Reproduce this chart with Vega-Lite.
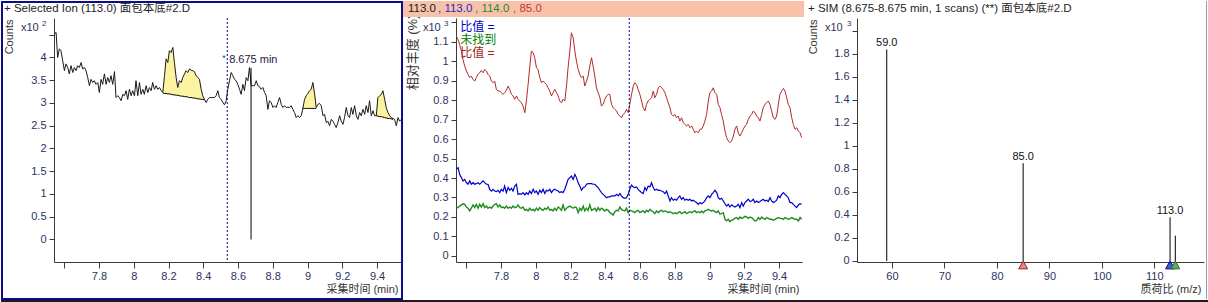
{
"$schema": "https://vega.github.io/schema/vega-lite/v6.json",
"padding": 0,
"background": "white",
"bounds": "flush",
"spacing": 55,
"config": {
 "view": {"stroke": null},
 "font": "Liberation Sans, Noto Sans CJK SC",
 "axis": {"grid": false, "domainColor": "#3a3a3a", "tickColor": "#3a3a3a", "labelColor": "#2c3360", "labelFont": "Liberation Sans", "labelFontSize": 11, "titleFont": "Liberation Sans, Noto Sans CJK SC", "titleFontSize": 11, "titleFontWeight": "normal", "titleColor": "#333333", "tickSize": 5, "labelPadding": 3, "labelOverlap": false, "labelFlush": false},
 "axisX": {"tickSize": 6, "labelPadding": 2}
},
"datasets": {
"scan": [
{"t":7.543,"v":4.52,"r":1.128,"b":0.444,"g":0.251},
{"t":7.553,"v":4.55,"r":1.111,"b":0.453,"g":0.248},
{"t":7.562,"v":4.00,"r":1.085,"b":0.419,"g":0.256},
{"t":7.572,"v":4.19,"r":1.051,"b":0.402,"g":0.262},
{"t":7.581,"v":4.15,"r":1.009,"b":0.385,"g":0.268},
{"t":7.591,"v":3.93,"r":0.974,"b":0.393,"g":0.265},
{"t":7.601,"v":3.71,"r":0.949,"b":0.376,"g":0.251},
{"t":7.610,"v":3.86,"r":0.932,"b":0.368,"g":0.245},
{"t":7.620,"v":3.78,"r":0.915,"b":0.385,"g":0.231},
{"t":7.629,"v":3.64,"r":0.923,"b":0.368,"g":0.245},
{"t":7.639,"v":3.82,"r":0.906,"b":0.376,"g":0.262},
{"t":7.649,"v":3.67,"r":0.897,"b":0.368,"g":0.248},
{"t":7.658,"v":3.78,"r":0.915,"b":0.371,"g":0.265},
{"t":7.668,"v":3.71,"r":0.932,"b":0.376,"g":0.245},
{"t":7.677,"v":3.82,"r":0.940,"b":0.368,"g":0.265},
{"t":7.687,"v":3.78,"r":0.952,"b":0.376,"g":0.251},
{"t":7.697,"v":3.89,"r":0.940,"b":0.385,"g":0.268},
{"t":7.706,"v":3.75,"r":0.957,"b":0.376,"g":0.248},
{"t":7.716,"v":3.78,"r":0.949,"b":0.368,"g":0.256},
{"t":7.725,"v":3.71,"r":0.932,"b":0.368,"g":0.245},
{"t":7.735,"v":3.56,"r":0.923,"b":0.342,"g":0.251},
{"t":7.745,"v":3.38,"r":0.897,"b":0.333,"g":0.245},
{"t":7.754,"v":3.52,"r":0.889,"b":0.342,"g":0.256},
{"t":7.764,"v":3.45,"r":0.897,"b":0.333,"g":0.265},
{"t":7.773,"v":3.49,"r":0.855,"b":0.330,"g":0.268},
{"t":7.783,"v":3.41,"r":0.846,"b":0.337,"g":0.251},
{"t":7.793,"v":3.45,"r":0.846,"b":0.325,"g":0.262},
{"t":7.802,"v":3.23,"r":0.838,"b":0.342,"g":0.248},
{"t":7.812,"v":3.52,"r":0.829,"b":0.333,"g":0.251},
{"t":7.821,"v":3.41,"r":0.838,"b":0.359,"g":0.245},
{"t":7.831,"v":3.64,"r":0.850,"b":0.325,"g":0.256},
{"t":7.841,"v":3.41,"r":0.872,"b":0.351,"g":0.245},
{"t":7.850,"v":3.56,"r":0.855,"b":0.337,"g":0.251},
{"t":7.860,"v":3.45,"r":0.829,"b":0.347,"g":0.245},
{"t":7.869,"v":3.60,"r":0.821,"b":0.333,"g":0.256},
{"t":7.879,"v":3.41,"r":0.804,"b":0.359,"g":0.248},
{"t":7.889,"v":3.69,"r":0.821,"b":0.368,"g":0.251},
{"t":7.898,"v":3.12,"r":0.804,"b":0.316,"g":0.262},
{"t":7.908,"v":3.16,"r":0.795,"b":0.320,"g":0.248},
{"t":7.917,"v":3.12,"r":0.786,"b":0.316,"g":0.245},
{"t":7.927,"v":3.05,"r":0.769,"b":0.325,"g":0.251},
{"t":7.937,"v":3.19,"r":0.735,"b":0.313,"g":0.234},
{"t":7.946,"v":3.16,"r":0.795,"b":0.325,"g":0.239},
{"t":7.956,"v":3.27,"r":0.880,"b":0.316,"g":0.231},
{"t":7.965,"v":3.08,"r":0.966,"b":0.333,"g":0.245},
{"t":7.975,"v":3.30,"r":1.051,"b":0.320,"g":0.234},
{"t":7.985,"v":3.16,"r":1.043,"b":0.342,"g":0.239},
{"t":7.994,"v":3.27,"r":1.017,"b":0.325,"g":0.231},
{"t":8.004,"v":3.16,"r":0.966,"b":0.333,"g":0.245},
{"t":8.013,"v":3.49,"r":0.957,"b":0.316,"g":0.234},
{"t":8.023,"v":3.16,"r":0.915,"b":0.337,"g":0.248},
{"t":8.033,"v":3.45,"r":0.889,"b":0.325,"g":0.239},
{"t":8.042,"v":3.19,"r":0.897,"b":0.342,"g":0.234},
{"t":8.052,"v":3.30,"r":0.889,"b":0.320,"g":0.245},
{"t":8.061,"v":3.19,"r":0.880,"b":0.337,"g":0.239},
{"t":8.071,"v":3.38,"r":0.863,"b":0.333,"g":0.251},
{"t":8.081,"v":3.23,"r":0.846,"b":0.342,"g":0.234},
{"t":8.090,"v":3.34,"r":0.821,"b":0.325,"g":0.239},
{"t":8.100,"v":3.27,"r":0.838,"b":0.337,"g":0.231},
{"t":8.109,"v":3.45,"r":0.855,"b":0.342,"g":0.245},
{"t":8.119,"v":3.30,"r":0.838,"b":0.337,"g":0.234},
{"t":8.129,"v":3.38,"r":0.821,"b":0.333,"g":0.251},
{"t":8.138,"v":3.30,"r":0.795,"b":0.325,"g":0.245},
{"t":8.148,"v":3.34,"r":0.786,"b":0.330,"g":0.234},
{"t":8.157,"v":3.28,"r":0.804,"b":0.325,"g":0.262},
{"t":8.167,"v":3.23,"r":0.795,"b":0.342,"g":0.234,"base":3.22,"p":"A"},
{"t":8.177,"v":3.60,"r":0.872,"b":0.368,"g":0.245,"base":3.21,"p":"A"},
{"t":8.186,"v":3.97,"r":0.966,"b":0.393,"g":0.251,"base":3.21,"p":"A"},
{"t":8.196,"v":3.89,"r":1.051,"b":0.402,"g":0.256,"base":3.20,"p":"A"},
{"t":8.205,"v":4.15,"r":1.145,"b":0.410,"g":0.251,"base":3.20,"p":"A"},
{"t":8.215,"v":4.11,"r":1.120,"b":0.393,"g":0.245,"base":3.19,"p":"A"},
{"t":8.225,"v":4.22,"r":1.051,"b":0.419,"g":0.251,"base":3.18,"p":"A"},
{"t":8.234,"v":3.89,"r":1.000,"b":0.402,"g":0.248,"base":3.18,"p":"A"},
{"t":8.244,"v":3.56,"r":0.957,"b":0.376,"g":0.222,"base":3.17,"p":"A"},
{"t":8.253,"v":3.34,"r":0.932,"b":0.359,"g":0.245,"base":3.17,"p":"A"},
{"t":8.263,"v":3.49,"r":0.915,"b":0.337,"g":0.234,"base":3.16,"p":"A"},
{"t":8.273,"v":3.45,"r":0.923,"b":0.351,"g":0.256,"base":3.15,"p":"A"},
{"t":8.282,"v":3.56,"r":0.872,"b":0.354,"g":0.231,"base":3.15,"p":"A"},
{"t":8.292,"v":3.64,"r":0.897,"b":0.368,"g":0.245,"base":3.14,"p":"A"},
{"t":8.301,"v":3.71,"r":0.923,"b":0.371,"g":0.234,"base":3.14,"p":"A"},
{"t":8.311,"v":3.67,"r":0.974,"b":0.371,"g":0.262,"base":3.13,"p":"A"},
{"t":8.321,"v":3.75,"r":1.017,"b":0.371,"g":0.234,"base":3.12,"p":"A"},
{"t":8.330,"v":3.72,"r":0.974,"b":0.368,"g":0.239,"base":3.12,"p":"A"},
{"t":8.340,"v":3.71,"r":0.923,"b":0.368,"g":0.245,"base":3.11,"p":"A"},
{"t":8.349,"v":3.69,"r":0.863,"b":0.359,"g":0.231,"base":3.11,"p":"A"},
{"t":8.359,"v":3.60,"r":0.838,"b":0.351,"g":0.248,"base":3.10,"p":"A"},
{"t":8.369,"v":3.56,"r":0.812,"b":0.337,"g":0.234,"base":3.09,"p":"A"},
{"t":8.378,"v":3.52,"r":0.769,"b":0.325,"g":0.245,"base":3.09,"p":"A"},
{"t":8.388,"v":3.30,"r":0.778,"b":0.316,"g":0.239,"base":3.08,"p":"A"},
{"t":8.397,"v":3.16,"r":0.804,"b":0.308,"g":0.231,"base":3.08,"p":"A"},
{"t":8.407,"v":3.08,"r":0.821,"b":0.299,"g":0.239,"base":3.07,"p":"A"},
{"t":8.417,"v":3.01,"r":0.829,"b":0.303,"g":0.234},
{"t":8.426,"v":3.08,"r":0.829,"b":0.303,"g":0.222},
{"t":8.436,"v":3.12,"r":0.778,"b":0.308,"g":0.217},
{"t":8.445,"v":3.12,"r":0.761,"b":0.308,"g":0.210},
{"t":8.455,"v":3.12,"r":0.752,"b":0.308,"g":0.227},
{"t":8.465,"v":3.12,"r":0.744,"b":0.316,"g":0.234},
{"t":8.474,"v":3.16,"r":0.726,"b":0.308,"g":0.231},
{"t":8.484,"v":3.27,"r":0.718,"b":0.320,"g":0.251},
{"t":8.493,"v":3.12,"r":0.709,"b":0.308,"g":0.239},
{"t":8.503,"v":3.08,"r":0.726,"b":0.299,"g":0.234},
{"t":8.513,"v":3.01,"r":0.735,"b":0.296,"g":0.231},
{"t":8.522,"v":2.96,"r":0.752,"b":0.299,"g":0.245},
{"t":8.532,"v":3.05,"r":0.735,"b":0.316,"g":0.222},
{"t":8.541,"v":3.30,"r":0.778,"b":0.342,"g":0.234},
{"t":8.551,"v":3.49,"r":0.829,"b":0.364,"g":0.231},
{"t":8.561,"v":3.67,"r":0.872,"b":0.354,"g":0.227},
{"t":8.570,"v":3.60,"r":0.889,"b":0.351,"g":0.222},
{"t":8.580,"v":3.52,"r":0.880,"b":0.354,"g":0.231},
{"t":8.589,"v":3.49,"r":0.855,"b":0.342,"g":0.234},
{"t":8.599,"v":3.41,"r":0.829,"b":0.333,"g":0.222},
{"t":8.609,"v":3.30,"r":0.795,"b":0.325,"g":0.227},
{"t":8.618,"v":3.19,"r":0.761,"b":0.320,"g":0.231},
{"t":8.628,"v":3.41,"r":0.744,"b":0.351,"g":0.222},
{"t":8.637,"v":3.27,"r":0.778,"b":0.337,"g":0.234},
{"t":8.647,"v":3.56,"r":0.795,"b":0.359,"g":0.227},
{"t":8.657,"v":3.49,"r":0.804,"b":0.354,"g":0.239},
{"t":8.666,"v":3.78,"r":0.812,"b":0.376,"g":0.231},
{"t":8.676,"v":3.38,"r":0.846,"b":0.351,"g":0.227},
{"t":8.685,"v":3.38,"r":0.812,"b":0.337,"g":0.217},
{"t":8.695,"v":3.38,"r":0.829,"b":0.342,"g":0.231},
{"t":8.705,"v":3.49,"r":0.863,"b":0.337,"g":0.222},
{"t":8.714,"v":3.38,"r":0.872,"b":0.337,"g":0.231},
{"t":8.724,"v":3.36,"r":0.863,"b":0.333,"g":0.234},
{"t":8.733,"v":3.30,"r":0.855,"b":0.330,"g":0.227},
{"t":8.743,"v":3.34,"r":0.838,"b":0.320,"g":0.231},
{"t":8.753,"v":3.23,"r":0.812,"b":0.333,"g":0.227},
{"t":8.762,"v":3.16,"r":0.786,"b":0.308,"g":0.222},
{"t":8.772,"v":2.86,"r":0.761,"b":0.282,"g":0.227},
{"t":8.781,"v":3.05,"r":0.726,"b":0.299,"g":0.222},
{"t":8.791,"v":3.01,"r":0.718,"b":0.286,"g":0.217},
{"t":8.801,"v":2.90,"r":0.726,"b":0.291,"g":0.222},
{"t":8.810,"v":2.94,"r":0.709,"b":0.286,"g":0.217},
{"t":8.820,"v":2.90,"r":0.718,"b":0.299,"g":0.222},
{"t":8.829,"v":3.01,"r":0.692,"b":0.308,"g":0.227},
{"t":8.839,"v":3.12,"r":0.709,"b":0.291,"g":0.217},
{"t":8.849,"v":2.97,"r":0.684,"b":0.299,"g":0.222},
{"t":8.858,"v":2.90,"r":0.675,"b":0.286,"g":0.227},
{"t":8.868,"v":2.94,"r":0.667,"b":0.291,"g":0.217},
{"t":8.877,"v":2.90,"r":0.675,"b":0.286,"g":0.222},
{"t":8.887,"v":2.91,"r":0.658,"b":0.291,"g":0.227},
{"t":8.897,"v":2.90,"r":0.667,"b":0.282,"g":0.222},
{"t":8.906,"v":2.94,"r":0.650,"b":0.286,"g":0.227},
{"t":8.916,"v":2.86,"r":0.632,"b":0.279,"g":0.231},
{"t":8.925,"v":2.79,"r":0.641,"b":0.274,"g":0.222},
{"t":8.935,"v":2.68,"r":0.632,"b":0.265,"g":0.227},
{"t":8.945,"v":2.72,"r":0.650,"b":0.274,"g":0.222},
{"t":8.954,"v":2.68,"r":0.650,"b":0.268,"g":0.231},
{"t":8.964,"v":2.72,"r":0.667,"b":0.274,"g":0.222},
{"t":8.973,"v":2.88,"r":0.692,"b":0.282,"g":0.231,"base":2.88,"p":"B"},
{"t":8.983,"v":3.08,"r":0.726,"b":0.299,"g":0.234,"base":2.88,"p":"B"},
{"t":8.993,"v":3.16,"r":0.795,"b":0.308,"g":0.239,"base":2.88,"p":"B"},
{"t":9.002,"v":3.21,"r":0.838,"b":0.299,"g":0.234,"base":2.88,"p":"B"},
{"t":9.012,"v":3.27,"r":0.846,"b":0.316,"g":0.231,"base":2.88,"p":"B"},
{"t":9.021,"v":3.30,"r":0.863,"b":0.325,"g":0.234,"base":2.88,"p":"B"},
{"t":9.031,"v":3.45,"r":0.838,"b":0.337,"g":0.227,"base":2.88,"p":"B"},
{"t":9.041,"v":3.19,"r":0.829,"b":0.325,"g":0.222,"base":2.88,"p":"B"},
{"t":9.050,"v":2.90,"r":0.778,"b":0.299,"g":0.231,"base":2.88,"p":"B"},
{"t":9.060,"v":2.97,"r":0.761,"b":0.291,"g":0.214},
{"t":9.069,"v":2.99,"r":0.726,"b":0.296,"g":0.217},
{"t":9.079,"v":2.94,"r":0.692,"b":0.282,"g":0.222},
{"t":9.089,"v":2.72,"r":0.641,"b":0.268,"g":0.188},
{"t":9.098,"v":2.75,"r":0.607,"b":0.256,"g":0.180},
{"t":9.108,"v":2.57,"r":0.590,"b":0.265,"g":0.188},
{"t":9.117,"v":2.60,"r":0.581,"b":0.251,"g":0.176},
{"t":9.127,"v":2.50,"r":0.590,"b":0.262,"g":0.183},
{"t":9.137,"v":2.64,"r":0.615,"b":0.256,"g":0.188},
{"t":9.146,"v":2.60,"r":0.650,"b":0.251,"g":0.193},
{"t":9.156,"v":2.53,"r":0.667,"b":0.256,"g":0.197},
{"t":9.165,"v":2.46,"r":0.632,"b":0.265,"g":0.188},
{"t":9.175,"v":2.57,"r":0.615,"b":0.248,"g":0.200},
{"t":9.185,"v":2.72,"r":0.632,"b":0.274,"g":0.193},
{"t":9.194,"v":2.60,"r":0.650,"b":0.256,"g":0.197},
{"t":9.204,"v":2.53,"r":0.667,"b":0.274,"g":0.203},
{"t":9.213,"v":2.68,"r":0.675,"b":0.282,"g":0.200},
{"t":9.223,"v":2.90,"r":0.701,"b":0.291,"g":0.193},
{"t":9.233,"v":2.72,"r":0.718,"b":0.279,"g":0.200},
{"t":9.242,"v":2.68,"r":0.726,"b":0.282,"g":0.197},
{"t":9.252,"v":2.90,"r":0.744,"b":0.291,"g":0.188},
{"t":9.261,"v":2.75,"r":0.735,"b":0.274,"g":0.180},
{"t":9.271,"v":2.94,"r":0.718,"b":0.282,"g":0.183},
{"t":9.281,"v":2.72,"r":0.709,"b":0.274,"g":0.197},
{"t":9.290,"v":2.64,"r":0.692,"b":0.279,"g":0.188},
{"t":9.300,"v":2.79,"r":0.726,"b":0.286,"g":0.200},
{"t":9.309,"v":2.72,"r":0.761,"b":0.291,"g":0.193},
{"t":9.319,"v":2.86,"r":0.778,"b":0.282,"g":0.188},
{"t":9.329,"v":2.75,"r":0.786,"b":0.286,"g":0.197},
{"t":9.338,"v":2.94,"r":0.795,"b":0.279,"g":0.193},
{"t":9.348,"v":2.79,"r":0.778,"b":0.299,"g":0.188},
{"t":9.357,"v":3.05,"r":0.744,"b":0.282,"g":0.188},
{"t":9.367,"v":2.72,"r":0.709,"b":0.274,"g":0.183},
{"t":9.377,"v":2.83,"r":0.701,"b":0.279,"g":0.188},
{"t":9.386,"v":2.72,"r":0.718,"b":0.286,"g":0.193},
{"t":9.396,"v":2.72,"r":0.778,"b":0.308,"g":0.197,"base":2.72,"p":"C"},
{"t":9.405,"v":3.12,"r":0.829,"b":0.299,"g":0.193,"base":2.71,"p":"C"},
{"t":9.415,"v":3.16,"r":0.846,"b":0.316,"g":0.193,"base":2.70,"p":"C"},
{"t":9.425,"v":3.19,"r":0.860,"b":0.325,"g":0.188,"base":2.70,"p":"C"},
{"t":9.434,"v":3.27,"r":0.846,"b":0.316,"g":0.197,"base":2.69,"p":"C"},
{"t":9.444,"v":3.08,"r":0.812,"b":0.308,"g":0.193,"base":2.68,"p":"C"},
{"t":9.453,"v":2.90,"r":0.778,"b":0.299,"g":0.188,"base":2.67,"p":"C"},
{"t":9.463,"v":2.79,"r":0.761,"b":0.274,"g":0.191,"base":2.66,"p":"C"},
{"t":9.473,"v":2.72,"r":0.709,"b":0.274,"g":0.197,"base":2.66,"p":"C"},
{"t":9.482,"v":2.68,"r":0.675,"b":0.265,"g":0.193,"base":2.65,"p":"C"},
{"t":9.492,"v":2.66,"r":0.650,"b":0.256,"g":0.188,"base":2.64,"p":"C"},
{"t":9.501,"v":2.64,"r":0.658,"b":0.248,"g":0.188},
{"t":9.511,"v":2.50,"r":0.641,"b":0.262,"g":0.180},
{"t":9.521,"v":2.68,"r":0.632,"b":0.268,"g":0.197},
{"t":9.530,"v":2.60,"r":0.607,"b":0.265,"g":0.188},
{"t":9.540,"v":2.64}
],
"spec": [
{"mz":59,"y":1.84,"lab":"59.0"},
{"mz":85,"y":0.85,"lab":"85.0"},
{"mz":113,"y":0.38,"lab":"113.0"},
{"mz":114,"y":0.22,"lab":""}
],
"ions": [
{"mz":85,"ion":"85"},
{"mz":113,"ion":"113"},
{"mz":114,"ion":"114"}
]
},
"hconcat": [
{
 "width": 347, "height": 244,
 "layer": [
  {"data": {"values": [{}]}, "mark": {"type": "rect", "fillOpacity": 0, "stroke": "#0c0c86", "strokeWidth": 2}, "encoding": {"x": {"datum": 7.2417}, "x2": {"datum": 9.5439}, "y": {"datum": 5.22}, "y2": {"datum": -1.308}}},
  {"data": {"values": [{}]}, "mark": {"type": "rect", "color": "#1c1c1c"}, "encoding": {"x": {"datum": 7.236}, "x2": {"datum": 9.561}, "y": {"datum": -1.33}, "y2": {"datum": -1.3956}}},
  {"data": {"name": "scan"}, "transform": [{"filter": "isValid(datum.base)"}], "mark": {"type": "area", "color": "#fbf3a0", "opacity": 1}, "encoding": {"x": {"field": "t", "type": "quantitative"}, "y": {"field": "v", "type": "quantitative"}, "y2": {"field": "base"}, "detail": {"field": "p"}}},
  {"data": {"name": "scan"}, "transform": [{"filter": "isValid(datum.base)"}], "mark": {"type": "line", "color": "#000000", "strokeWidth": 1}, "encoding": {"x": {"field": "t", "type": "quantitative"}, "y": {"field": "base", "type": "quantitative"}, "detail": {"field": "p"}}},
  {"data": {"name": "scan"}, "mark": {"type": "line", "color": "#1a1a1a", "strokeWidth": 1},
   "encoding": {
    "x": {"field": "t", "type": "quantitative", "scale": {"domain": [7.541, 9.538], "nice": false, "zero": false},
      "axis": {"title": "采集时间 (min)", "values": [7.6,7.8,8,8.2,8.4,8.6,8.8,9,9.2,9.4], "tickCount": 100, "format": "~r", "labelOverlap": false, "labelFlush": false, "labelExpr": "datum.value < 7.7 ? '' : datum.label", "titleX": 344, "titleY": 27, "titleAlign": "right", "titleBaseline": "middle", "titleAnchor": "end"}},
    "y": {"field": "v", "type": "quantitative", "scale": {"domain": [-0.495, 4.868], "nice": false, "zero": false},
      "axis": {"title": "Counts", "values": [0,0.5,1,1.5,2,2.5,3,3.5,4,4.5], "tickCount": 100, "format": "~r", "labelOverlap": false, "labelExpr": "datum.value > 4.4 ? '' : datum.label", "titleX": -45, "titleY": 1, "titleAngle": 270, "titleAlign": "right", "titleBaseline": "middle", "titleAnchor": "end"}}
   }},
  {"data": {"values": [{}]}, "mark": {"type": "rule", "color": "#0000a0", "strokeDash": [2, 2], "strokeWidth": 1}, "encoding": {"x": {"datum": 8.538}}},
  {"data": {"values": [{}]}, "mark": {"type": "rule", "color": "#000000", "strokeWidth": 1}, "encoding": {"x": {"datum": 8.675}, "y": {"datum": 0}, "y2": {"datum": 3.77}}},
  {"data": {"values": [{}]}, "mark": {"type": "text", "text": "+ Selected Ion (113.0) 面包本底#2.D", "align": "left", "baseline": "middle", "fontSize": 11.5, "color": "#1e1e1e"}, "encoding": {"x": {"datum": 7.2532}, "y": {"datum": 5.066}}},
  {"data": {"values": [{}]}, "mark": {"type": "text", "text": "8.675 min", "align": "left", "baseline": "middle", "fontSize": 11, "color": "#1e2040"}, "encoding": {"x": {"datum": 8.549}, "y": {"datum": 3.945}}},
  {"data": {"values": [{}]}, "mark": {"type": "text", "text": "*", "align": "center", "baseline": "middle", "fontSize": 9, "color": "#304080"}, "encoding": {"x": {"datum": 8.519}, "y": {"datum": 3.99}}},
  {"data": {"values": [{}]}, "mark": {"type": "text", "text": "x10", "align": "left", "baseline": "middle", "fontSize": 11, "color": "#2c3360"}, "encoding": {"x": {"datum": 7.351}, "y": {"datum": 4.648}}},
  {"data": {"values": [{}]}, "mark": {"type": "text", "text": "2", "align": "left", "baseline": "middle", "fontSize": 8, "color": "#2c3360"}, "encoding": {"x": {"datum": 7.472}, "y": {"datum": 4.736}}}
 ]
},
{
 "width": 346, "height": 244,
 "layer": [
  {"data": {"values": [{}]}, "mark": {"type": "rect", "color": "#1c1c1c"}, "encoding": {"x": {"datum": 7.236}, "x2": {"datum": 9.561}, "y": {"datum": -0.2256}, "y2": {"datum": -0.241}}},
  {"data": {"name": "scan"}, "transform": [{"fold": ["r", "b", "g"], "as": ["s", "val"]}, {"filter": "isValid(datum.val)"}],
   "mark": {"type": "line"},
   "encoding": {
    "x": {"field": "t", "type": "quantitative", "scale": {"domain": [7.541, 9.532], "nice": false, "zero": false},
      "axis": {"title": "采集时间 (min)", "values": [7.6,7.8,8,8.2,8.4,8.6,8.8,9,9.2,9.4], "tickCount": 100, "format": "~r", "labelOverlap": false, "labelFlush": false, "labelExpr": "datum.value < 7.7 ? '' : datum.label", "titleX": 343, "titleY": 27, "titleAlign": "right", "titleBaseline": "middle", "titleAnchor": "end"}},
    "y": {"field": "val", "type": "quantitative", "scale": {"domain": [-0.031, 1.221], "nice": false, "zero": false},
      "axis": {"title": "相对丰度 (%)", "titleFontSize": 13, "values": [0,0.1,0.2,0.3,0.4,0.5,0.6,0.7,0.8,0.9,1,1.1,1.2], "tickCount": 100, "format": "~r", "labelOverlap": false, "labelExpr": "datum.value > 1.15 ? '' : datum.label", "titleX": -44, "titleY": -4, "titleAngle": 270, "titleAlign": "right", "titleBaseline": "middle", "titleAnchor": "end"}},
    "color": {"field": "s", "type": "nominal", "scale": {"domain": ["r", "b", "g"], "range": ["#b22a2a", "#0000cc", "#1e8c1e"]}, "legend": null},
    "strokeWidth": {"field": "s", "type": "nominal", "scale": {"domain": ["r", "b", "g"], "range": [1, 1.4, 1]}, "legend": null}
   }},
  {"data": {"values": [{}]}, "mark": {"type": "rect", "color": "#f8c2aa"}, "encoding": {"x": {"datum": 7.236}, "x2": {"datum": 9.544}, "y": {"datum": 1.3077}, "y2": {"datum": 1.2256}}},
  {"data": {"values": [{}]}, "mark": {"type": "rule", "color": "#0000a0", "strokeDash": [2, 2], "strokeWidth": 1}, "encoding": {"x": {"datum": 8.538}}},
  {"data": {"values": [{}]}, "mark": {"type": "text", "text": "113.0", "align": "left", "baseline": "middle", "fontSize": 11.5, "color": "#1a1a1a"}, "encoding": {"x": {"datum": 7.2647}, "y": {"datum": 1.2667}}},
  {"data": {"values": [{}]}, "mark": {"type": "text", "text": ", 113.0", "align": "left", "baseline": "middle", "fontSize": 11.5, "color": "#2828c8"}, "encoding": {"x": {"datum": 7.4374}, "y": {"datum": 1.2667}}},
  {"data": {"values": [{}]}, "mark": {"type": "text", "text": ", 114.0", "align": "left", "baseline": "middle", "fontSize": 11.5, "color": "#2a8a2a"}, "encoding": {"x": {"datum": 7.6504}, "y": {"datum": 1.2667}}},
  {"data": {"values": [{}]}, "mark": {"type": "text", "text": ", 85.0", "align": "left", "baseline": "middle", "fontSize": 11.5, "color": "#c03a3a"}, "encoding": {"x": {"datum": 7.869}, "y": {"datum": 1.2667}}},
  {"data": {"values": [{}]}, "mark": {"type": "text", "text": "比值 =", "align": "left", "baseline": "middle", "fontSize": 12, "color": "#0000cc"}, "encoding": {"x": {"datum": 7.565}, "y": {"datum": 1.174}}},
  {"data": {"values": [{}]}, "mark": {"type": "text", "text": "未找到", "align": "left", "baseline": "middle", "fontSize": 12, "color": "#008000"}, "encoding": {"x": {"datum": 7.565}, "y": {"datum": 1.108}}},
  {"data": {"values": [{}]}, "mark": {"type": "text", "text": "比值 =", "align": "left", "baseline": "middle", "fontSize": 12, "color": "#a52020"}, "encoding": {"x": {"datum": 7.565}, "y": {"datum": 1.041}}},
  {"data": {"values": [{}]}, "mark": {"type": "text", "text": "x10", "align": "left", "baseline": "middle", "fontSize": 11, "color": "#2c3360"}, "encoding": {"x": {"datum": 7.351}, "y": {"datum": 1.169}}},
  {"data": {"values": [{}]}, "mark": {"type": "text", "text": "3", "align": "left", "baseline": "middle", "fontSize": 8, "color": "#2c3360"}, "encoding": {"x": {"datum": 7.472}, "y": {"datum": 1.19}}}
 ]
},
{
 "width": 347, "height": 244,
 "layer": [
  {"data": {"values": [{}]}, "mark": {"type": "rect", "color": "#1c1c1c"}, "encoding": {"x": {"datum": 43.42}, "x2": {"datum": 120.43}, "y": {"datum": -0.339}, "y2": {"datum": -0.365}}},
  {"data": {"values": [{}]}, "mark": {"type": "rule", "color": "#9a9a9a", "strokeWidth": 1}, "encoding": {"x": {"datum": 119.95}, "y": {"datum": 2.261}, "y2": {"datum": -0.33}}},
  {"data": {"name": "spec"}, "mark": {"type": "rule", "color": "#000000", "strokeWidth": 1},
   "encoding": {
    "x": {"field": "mz", "type": "quantitative", "scale": {"domain": [53.33, 119.47], "nice": false, "zero": false},
      "axis": {"title": "质荷比 (m/z)", "values": [60,70,80,90,100,110], "tickCount": 100, "format": "~r", "labelOverlap": false, "labelFlush": false, "titleX": 344, "titleY": 27, "titleAlign": "right", "titleBaseline": "middle", "titleAnchor": "end"}},
    "y": {"field": "y", "type": "quantitative", "scale": {"domain": [-0.009, 2.113], "nice": false, "zero": false},
      "axis": {"title": "Counts", "values": [0,0.2,0.4,0.6,0.8,1,1.2,1.4,1.6,1.8,2], "tickCount": 100, "format": "~r", "labelOverlap": false, "labelExpr": "datum.value > 1.9 ? '' : datum.label", "titleX": -44, "titleY": 1, "titleAngle": 270, "titleAlign": "right", "titleBaseline": "middle", "titleAnchor": "end"}},
    "y2": {"datum": 0}
   }},
  {"data": {"name": "spec"}, "mark": {"type": "text", "align": "center", "baseline": "bottom", "dy": -1, "fontSize": 11, "color": "#111111"}, "encoding": {"x": {"field": "mz", "type": "quantitative"}, "y": {"field": "y", "type": "quantitative"}, "text": {"field": "lab"}}},
  {"data": {"name": "ions"}, "mark": {"type": "point", "shape": "triangle-up", "filled": true, "size": 80, "strokeWidth": 1, "opacity": 1},
   "encoding": {"x": {"field": "mz", "type": "quantitative"}, "y": {"datum": -0.035},
    "fill": {"field": "ion", "type": "nominal", "scale": {"domain": ["85", "113", "114"], "range": ["#e08888", "#3a5ae0", "#60b060"]}, "legend": null},
    "stroke": {"field": "ion", "type": "nominal", "scale": {"domain": ["85", "113", "114"], "range": ["#a02020", "#000090", "#207020"]}, "legend": null}}},
  {"data": {"values": [{}]}, "mark": {"type": "text", "text": "+ SIM (8.675-8.675 min, 1 scans) (**) 面包本底#2.D", "align": "left", "baseline": "middle", "fontSize": 11.5, "color": "#1e1e1e"}, "encoding": {"x": {"datum": 43.99}, "y": {"datum": 2.191}}},
  {"data": {"values": [{}]}, "mark": {"type": "text", "text": "x10", "align": "left", "baseline": "middle", "fontSize": 11, "color": "#2c3360"}, "encoding": {"x": {"datum": 47.23}, "y": {"datum": 2.026}}},
  {"data": {"values": [{}]}, "mark": {"type": "text", "text": "3", "align": "left", "baseline": "middle", "fontSize": 8, "color": "#2c3360"}, "encoding": {"x": {"datum": 51.42}, "y": {"datum": 2.061}}}
 ]
}
]
}
